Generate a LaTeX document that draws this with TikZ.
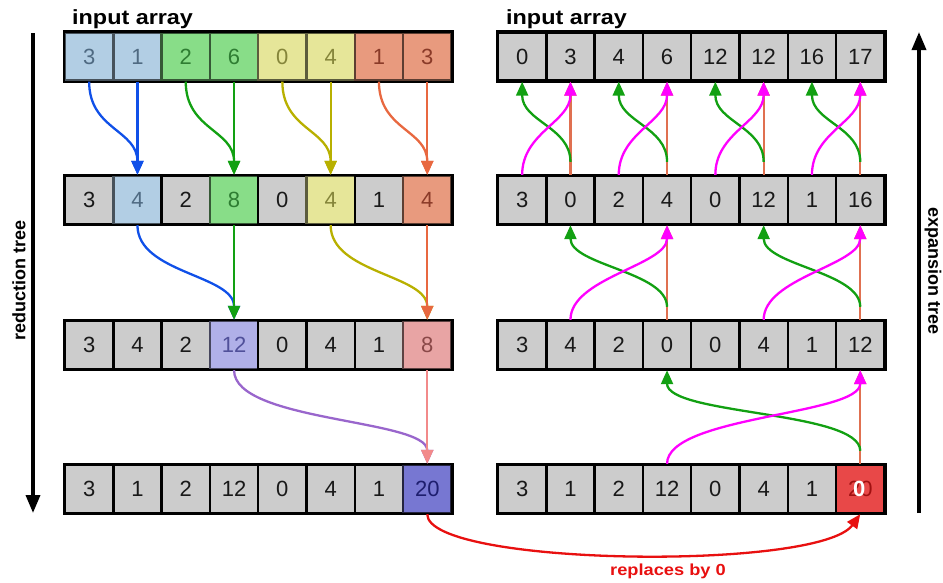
\documentclass[tikz,border=0pt]{standalone}
\usepackage{fontspec}
\setmainfont{Liberation Sans}
\usetikzlibrary{arrows.meta,calc}
\definecolor{cGray}{HTML}{CCCCCC}
\definecolor{cBlue}{HTML}{B2CEE4}\definecolor{tBlue}{HTML}{4F6A82}
\definecolor{cGreen}{HTML}{88DD88}\definecolor{tGreen}{HTML}{2E7D32}
\definecolor{cYel}{HTML}{E6E699}\definecolor{tYel}{HTML}{85853A}
\definecolor{cSal}{HTML}{E89A7E}\definecolor{tSal}{HTML}{8A3A28}
\definecolor{cPur}{HTML}{B0B0E8}\definecolor{tPur}{HTML}{50509A}
\definecolor{cPink}{HTML}{E8A4A4}\definecolor{tPink}{HTML}{8A4848}
\definecolor{cDark}{HTML}{7777D2}\definecolor{tDark}{HTML}{1E1E6E}
\definecolor{cRed}{HTML}{E84848}\definecolor{tRed}{HTML}{A01010}
\definecolor{aBlue}{HTML}{1050E8}
\definecolor{aGreen}{HTML}{12A012}
\definecolor{aYel}{HTML}{B8B000}
\definecolor{aSal}{HTML}{E86840}
\definecolor{aPur}{HTML}{9966CC}
\definecolor{aPink}{HTML}{F28A8A}
\definecolor{aMag}{HTML}{FF00FF}
\definecolor{aOr}{HTML}{E07050}
\definecolor{aRed}{HTML}{E81010}
\begin{document}
\begin{tikzpicture}[x=1pt,y=-1pt,
  cell/.style={draw=black, line width=2.4pt, fill=cGray, minimum width=48.3pt,
    minimum height=48pt, inner sep=0pt, text=black!90,
    font=\fontsize{22}{22}\selectfont},
  fgray/.style={},
  fblue/.style={fill=cBlue, draw=cBlue!40!black, text=tBlue},
  fgreen/.style={fill=cGreen, draw=cGreen!40!black, text=tGreen},
  fyel/.style={fill=cYel, draw=cYel!40!black, text=tYel},
  fsal/.style={fill=cSal, draw=cSal!40!black, text=tSal},
  fpur/.style={fill=cPur, draw=cPur!40!black, text=tPur},
  fpink/.style={fill=cPink, draw=cPink!40!black, text=tPink},
  fdark/.style={fill=cDark, draw=cDark!30!black, text=tDark},
  fred/.style={fill=cRed, draw=black, text=tRed},
  rowframe/.style={draw=black, line width=2.4pt},
  arr/.style={line width=2.3pt, -{Triangle[length=14pt,width=12pt]}},
  bigarr/.style={line width=3.5pt, -{Triangle[length=18pt,width=14pt]}},
  title/.style={font=\bfseries\fontsize{20.5}{20.5}\selectfont, anchor=base west, inner sep=0pt},
  side/.style={font=\bfseries\fontsize{18}{18}\selectfont, inner sep=0pt}
]
\useasboundingbox (0,0) rectangle (943,582);

% ---------- left (reduction) ----------
\foreach \v/\s [count=\i from 0] in {3/fblue,1/fblue,2/fgreen,6/fgreen,0/fyel,4/fyel,1/fsal,3/fsal}
  \node[cell,\s] (L1c\i) at ({65+48.3*(\i+0.5)},56.5) {\v};
\foreach \v/\s [count=\i from 0] in {3/fgray,4/fblue,2/fgray,8/fgreen,0/fgray,4/fyel,1/fgray,4/fsal}
  \node[cell,\s] (L2c\i) at ({65+48.3*(\i+0.5)},200) {\v};
\foreach \v/\s [count=\i from 0] in {3/fgray,4/fgray,2/fgray,12/fpur,0/fgray,4/fgray,1/fgray,8/fpink}
  \node[cell,\s] (L3c\i) at ({65+48.3*(\i+0.5)},345) {\v};
\foreach \v/\s [count=\i from 0] in {3/fgray,1/fgray,2/fgray,12/fgray,0/fgray,4/fgray,1/fgray,20/fdark}
  \node[cell,\s] (L4c\i) at ({65+48.3*(\i+0.5)},489) {\v};
\foreach \r in {1,2,3,4}
  \draw[rowframe] (L\r c0.north west) rectangle (L\r c7.south east);

% ---------- right (expansion) ----------
\foreach \v [count=\i from 0] in {0,3,4,6,12,12,16,17}
  \node[cell] (R1c\i) at ({498+48.3*(\i+0.5)},56.5) {\v};
\foreach \v [count=\i from 0] in {3,0,2,4,0,12,1,16}
  \node[cell] (R2c\i) at ({498+48.3*(\i+0.5)},200) {\v};
\foreach \v [count=\i from 0] in {3,4,2,0,0,4,1,12}
  \node[cell] (R3c\i) at ({498+48.3*(\i+0.5)},345) {\v};
\foreach \v [count=\i from 0] in {3,1,2,12,0,4,1}
  \node[cell] (R4c\i) at ({498+48.3*(\i+0.5)},489) {\v};
\node[cell,fred] (R4c7) at ({498+48.3*7.5},489) {20};
\node[text=white, font=\bfseries\fontsize{22}{22}\selectfont, inner sep=0pt] (zero) at ([xshift=-1pt]R4c7.center) {0};
\foreach \r in {1,2,3,4}
  \draw[rowframe] (R\r c0.north west) rectangle (R\r c7.south east);

% ---------- titles ----------
\node[title] (tl) at (72,24) {\scalebox{1.14}[1]{input array}};
\node[title] (tr) at (506,24) {\scalebox{1.14}[1]{input array}};
\node[side, rotate=90] (red) at (19,280) {reduction tree};
\node[side, rotate=-90] (exp) at (933,271) {expansion tree};
\node[font=\bfseries\fontsize{16}{16}\selectfont, text=aRed, inner sep=0pt] (rep) at (668,571) {\scalebox{1.14}[1]{replaces by 0}};

% ---------- big arrows ----------
\coordinate (la1) at (33,33);
\coordinate (la2) at (33,513);
\coordinate (ra1) at (919,513);
\coordinate (ra2) at (919,32);
\draw[bigarr] (la1) -- (la2);
\draw[bigarr] (ra1) -- (ra2);

% ---------- reduction arrows ----------
\foreach \a/\b/\c in {0/1/aBlue,2/3/aGreen,4/5/aYel,6/7/aSal}{
  \draw[arr,\c] (L1c\a.south) .. controls +(0,48) and +(0,-45) .. (L2c\b.north);
  \draw[arr,\c] (L1c\b.south) -- (L2c\b.north);
}
\draw[arr,aBlue] (L2c1.south) .. controls +(0,48) and +(0,-45) .. (L3c3.north);
\draw[arr,aGreen] (L2c3.south) -- (L3c3.north);
\draw[arr,aYel] (L2c5.south) .. controls +(0,48) and +(0,-45) .. (L3c7.north);
\draw[arr,aSal] (L2c7.south) -- (L3c7.north);
\draw[arr,aPur] (L3c3.south) .. controls +(0,52) and +(0,-45) .. (L4c7.north);
\draw[arr,aPink] (L3c7.south) -- (L4c7.north);

% ---------- expansion arrows ----------
\foreach \a/\b in {0/1,2/3,4/5,6/7}{
  \draw[arr,aOr] (R2c\b.north) -- (R1c\b.south);
  \draw[arr,aGreen] ($(R2c\b.north)+(0,-13)$) .. controls +(0,-35) and +(0,40) .. (R1c\a.south);
  \draw[arr,aMag] (R2c\a.north) .. controls +(0,-42) and +(0,40) .. (R1c\b.south);
}
\foreach \a/\b in {1/3,5/7}{
  \draw[arr,aOr] (R3c\b.north) -- (R2c\b.south);
  \draw[arr,aGreen] ($(R3c\b.north)+(0,-13)$) .. controls +(0,-35) and +(0,40) .. (R2c\a.south);
  \draw[arr,aMag] (R3c\a.north) .. controls +(0,-42) and +(0,40) .. (R2c\b.south);
}
\draw[arr,aOr] (R4c7.north) -- (R3c7.south);
\draw[arr,aGreen] ($(R4c7.north)+(0,-13)$) .. controls +(0,-40) and +(0,45) .. (R3c3.south);
\draw[arr,aMag] (R4c3.north) .. controls +(0,-48) and +(0,45) .. (R3c7.south);

% ---------- replace arrow ----------
\draw[arr,aRed] (L4c7.south) .. controls +(0,52) and +(-41,57) .. (R4c7.south);
\end{tikzpicture}
\end{document}
